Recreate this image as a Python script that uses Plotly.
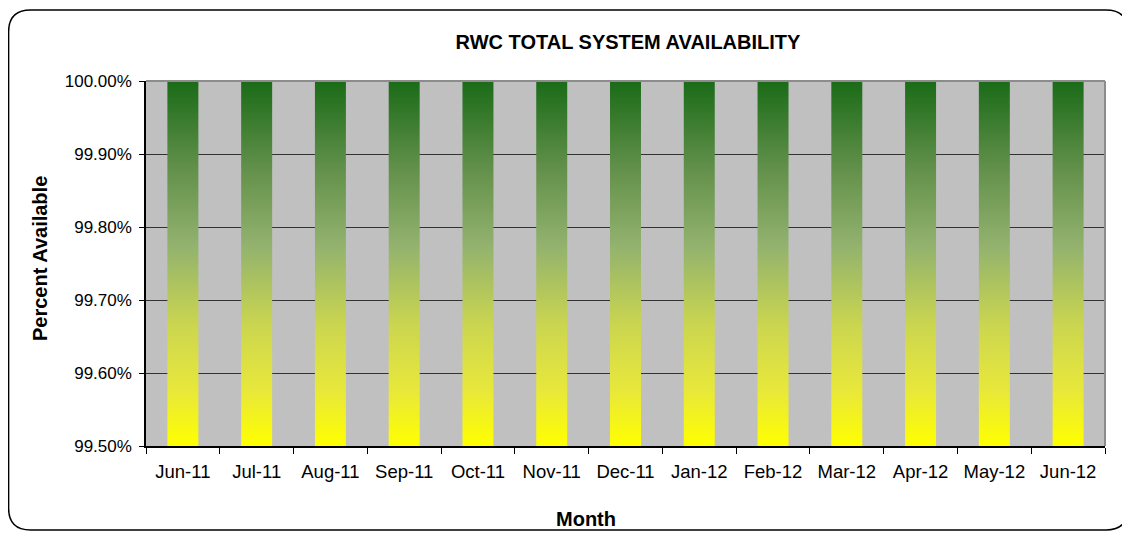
import plotly.graph_objects as go

# ---- data ----
months = ["Jun-11", "Jul-11", "Aug-11", "Sep-11", "Oct-11", "Nov-11", "Dec-11",
          "Jan-12", "Feb-12", "Mar-12", "Apr-12", "May-12", "Jun-12"]
availability = [100.00, 100.00, 100.00, 100.00, 100.00, 100.00, 100.00,
                100.00, 100.00, 100.00, 100.00, 100.00, 100.00]
y_tick_values = [99.50, 99.60, 99.70, 99.80, 99.90, 100.00]
y_tick_labels = ["99.50%", "99.60%", "99.70%", "99.80%", "99.90%", "100.00%"]
y_min, y_max = 99.50, 100.00

# ---- style ----
# the page body has an 8px margin, so the figure is laid out 8px up/left
OFF = 8
W, H = 1130 - OFF, 533 - OFF
ML, MR, MT, MB = 146 - OFF, 25, 81 - OFF, 87
bar_width = 0.42
font_family = "Liberation Sans, Arial, sans-serif"
gradient = [[0.0, "#FFFF00"], [0.15, "#E8E83A"], [0.32, "#CDD74E"],
            [0.55, "#92B26E"], [0.76, "#62904A"], [1.0, "#1A6B18"]]

fig = go.Figure()
hw = bar_width / 2
for i, (m, v) in enumerate(zip(months, availability)):
    fig.add_trace(go.Scatter(
        x=[i - hw, i + hw, i + hw, i - hw, i - hw],
        y=[y_min, y_min, v, v, y_min],
        mode="lines", line=dict(width=0),
        fill="toself",
        fillgradient=dict(type="vertical", colorscale=gradient, start=y_min, stop=y_max),
        name=m, showlegend=False,
        hoverinfo="text", text=f"{m}: {v:.2f}%",
    ))

pw = W - ML - MR
ph = H - MT - MB


def P(x, y):
    # reference-pixel position -> paper coordinates
    a = (x - OFF - ML) / pw
    b = (H - MB - (y - OFF)) / ph
    return f"{a:.5f},{b:.5f}"


# rounded outer border (reference pixel positions)
x0, y0, x1, y1, r = 8.6, 10, 1128, 530, 22
path = (f"M {P(x0 + r, y0)} L {P(x1 - r, y0)} Q {P(x1, y0)} {P(x1, y0 + r)} "
        f"L {P(x1, y1 - r)} Q {P(x1, y1)} {P(x1 - r, y1)} "
        f"L {P(x0 + r, y1)} Q {P(x0, y1)} {P(x0, y1 - r)} "
        f"L {P(x0, y0 + r)} Q {P(x0, y0)} {P(x0 + r, y0)} Z")

shapes = [
    dict(type="path", xref="paper", yref="paper", path=path,
         line=dict(color="black", width=1.5), layer="below"),
    dict(type="line", xref="paper", yref="paper", x0=0, x1=1, y0=1, y1=1,
         line=dict(color="#8C8C8C", width=2), layer="above"),
    dict(type="line", xref="paper", yref="paper", x0=1, x1=1, y0=0, y1=1,
         line=dict(color="#8C8C8C", width=2), layer="above"),
]


def paper_x(xr):
    return (xr - OFF - ML) / pw


def paper_y(yr):
    return (H - MB - (yr - OFF)) / ph


annotations = [
    dict(text="<b>Month</b>", xref="paper", yref="paper", x=paper_x(586), y=paper_y(519),
         xanchor="center", yanchor="middle", showarrow=False, font=dict(size=20)),
    dict(text="<b>Percent Available</b>", xref="paper", yref="paper",
         x=paper_x(40), y=paper_y(259), textangle=-90,
         xanchor="center", yanchor="middle", showarrow=False, font=dict(size=20)),
]

fig.update_layout(
    width=W, height=H,
    margin=dict(l=ML, r=MR, t=MT, b=MB),
    paper_bgcolor="white",
    plot_bgcolor="#C0C0C0",
    font=dict(family=font_family, color="black"),
    title=dict(text="<b>RWC TOTAL SYSTEM AVAILABILITY</b>", x=(628 - OFF) / W,
               xanchor="center", y=1 - (42 - OFF) / H, yanchor="middle", yref="container",
               font=dict(size=20)),
    shapes=shapes,
    annotations=annotations,
    showlegend=False,
)

fig.update_xaxes(
    range=[-0.5, len(months) - 0.5],
    tickmode="array", tickvals=list(range(len(months))), ticktext=months,
    ticks="", tickfont=dict(size=18.5), ticklabelstandoff=8,
    minor=dict(tickmode="array", tickvals=[i - 0.5 for i in range(len(months) + 1)],
               ticks="outside", ticklen=6, tickcolor="black", tickwidth=1, showgrid=False),
    showline=True, linecolor="black", linewidth=1.5,
    showgrid=False, zeroline=False,
)

fig.update_yaxes(
    range=[y_min, y_max],
    tickmode="array", tickvals=y_tick_values, ticktext=y_tick_labels,
    ticks="outside", ticklen=5, tickcolor="black", tickwidth=1,
    tickfont=dict(size=17), ticklabelstandoff=4,
    showline=True, linecolor="black", linewidth=1.5,
    showgrid=True, gridcolor="#333333", gridwidth=1,
    zeroline=False,
)

fig.write_html("out.html")
